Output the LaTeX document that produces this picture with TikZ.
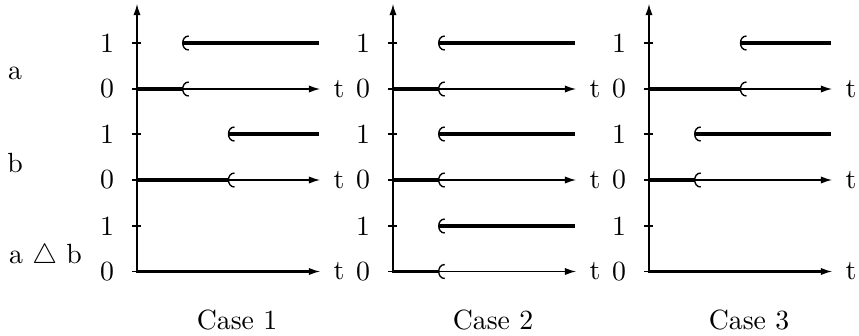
\documentclass[tikz,border=0pt]{standalone}
\usetikzlibrary{arrows.meta}
\newcommand{\jmark}[2]{\draw[jmp] ({#1+6},{#2-7}) .. controls ({#1-2},{#2-7}) and ({#1-2},{#2+7}) .. ({#1+6},{#2+7});}
\newcommand{\sigjump}[4]{% X, J, y1, y0
  \draw[sig] (#1,#4) -- (#2,#4);
  \draw[sig] (#2,#3) -- ({#1+182},#3);
  \jmark{#2}{#3}\jmark{#2}{#4}}
\newcommand{\sigflat}[2]{\draw[sig] (#1,#2) -- ({#1+178},#2);}
\begin{document}
\begin{tikzpicture}[x=0.36pt,y=-0.36pt,
  axis/.style={line width=0.45pt},
  tarrow/.style={line width=0.45pt,-{Latex[length=4pt,width=2.6pt]}},
  sig/.style={line width=1.1pt},
  jmp/.style={line width=0.5pt},
  lab/.style={inner sep=0pt,anchor=center}]
\useasboundingbox (0,0) rectangle (859,336);
% row labels
\node[lab] (la) at (15,73) {a};
\node[lab] (lb) at (15,163) {b};
\node[lab] (lab) at (45.5,257) {a $\triangle$ b};
\foreach \X/\n in {137/1,393/2,649/3}{
  \coordinate (base\n) at (\X,273);
  \coordinate (top\n) at (\X,4);
  \draw[tarrow] (base\n) -- (top\n);
  \foreach \y/\v/\k in {43/1/a1,89/0/a0,134/1/b1,180/0/b0,226/1/c1,271.5/0/c0}{
    \draw[axis] ({\X-4.5},\y) -- ({\X+4.5},\y);
    \node[lab] (d\n\k) at ({\X-30},\y) {\v};
  }
  \foreach \y/\k in {89/a,180/b,271.5/c}{
    \coordinate (s\n\k) at (\X,\y);
    \node[lab] (t\n\k) at ({\X+202},\y) {t};
    \coordinate (e\n\k) at ({\X+183},\y);
    \draw[tarrow] (s\n\k) -- (e\n\k);
  }
  \node[lab] (case\n) at ({\X+100},320) {Case \n};
}
% Case 1
\sigjump{137}{182.75}{43}{89}
\sigjump{137}{228.5}{134}{180}
\sigflat{137}{271.5}
% Case 2
\sigjump{393}{438.75}{43}{89}
\sigjump{393}{438.75}{134}{180}
\sigjump{393}{438.75}{226}{271.5}
% Case 3
\sigjump{649}{740.5}{43}{89}
\sigjump{649}{694.75}{134}{180}
\sigflat{649}{271.5}
\end{tikzpicture}
\end{document}
